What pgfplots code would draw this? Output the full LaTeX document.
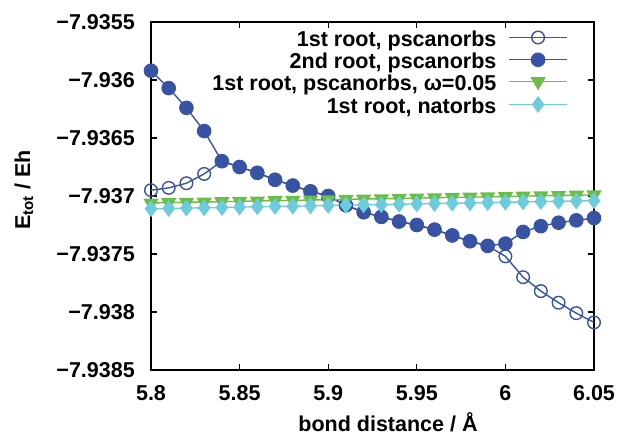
\documentclass[border=0pt]{standalone}
\usepackage{fontspec}
\setmainfont{Liberation Sans}
\usepackage{pgfplots}
\usepackage{pgfplotstable}
\pgfplotsset{compat=1.18}
\definecolor{cblue}{RGB}{57,83,164}
\definecolor{cgreen}{RGB}{106,189,69}
\definecolor{ccyan}{RGB}{108,204,221}
\newcommand{\myfont}{\fontsize{21.5bp}{25bp}\selectfont\bfseries}
\pgfplotstableread{
x open filled green cyan
5.80 -7.93695 -7.93592 -7.937060 -7.937110
5.81 -7.93693 -7.93607 -7.937057 -7.937107
5.82 -7.93689 -7.93624 -7.937054 -7.937104
5.83 -7.93681 -7.93644 -7.937052 -7.937102
5.84 -7.93670 -7.93670 -7.937049 -7.937099
5.85 -7.93675 -7.93675 -7.937046 -7.937096
5.86 -7.93680 -7.93680 -7.937043 -7.937093
5.87 -7.93686 -7.93686 -7.937040 -7.937090
5.88 -7.93691 -7.93691 -7.937038 -7.937088
5.89 -7.93696 -7.93696 -7.937035 -7.937085
5.90 -7.93700 -7.93700 -7.937032 -7.937082
5.91 -7.93708 -7.93708 -7.937029 -7.937079
5.92 -7.93714 -7.93714 -7.937026 -7.937076
5.93 -7.93718 -7.93718 -7.937024 -7.937074
5.94 -7.93722 -7.93722 -7.937021 -7.937071
5.95 -7.93725 -7.93725 -7.937018 -7.937068
5.96 -7.93729 -7.93729 -7.937015 -7.937065
5.97 -7.93734 -7.93734 -7.937012 -7.937062
5.98 -7.93739 -7.93739 -7.937010 -7.937060
5.99 -7.93743 -7.93743 -7.937007 -7.937057
6.00 -7.93752 -7.93741 -7.937004 -7.937054
6.01 -7.93770 -7.93731 -7.937001 -7.937051
6.02 -7.93782 -7.93726 -7.936998 -7.937048
6.03 -7.93792 -7.93723 -7.936996 -7.937046
6.04 -7.93801 -7.93721 -7.936993 -7.937043
6.05 -7.93809 -7.93719 -7.936990 -7.937040
}\data
\begin{document}
\begin{tikzpicture}
\begin{axis}[
  scale only axis, width=443bp, height=348bp,
  xmin=5.8, xmax=6.05, ymin=-7.9385, ymax=-7.9355,
  xtick={5.8,5.85,5.9,5.95,6,6.05},
  xticklabels={5.8,5.85,5.9,5.95,6,6.05},
  ytick={-7.9385,-7.938,-7.9375,-7.937,-7.9365,-7.936,-7.9355},
  yticklabels={−7.9385,−7.938,−7.9375,−7.937,−7.9365,−7.936,−7.9355},
  tick align=inside, major tick length=6bp,
  tick style={black, line width=1.2bp},
  axis line style={black, line width=1.5bp},
  tick label style={font=\myfont, inner sep=0pt},
  yticklabel style={xshift=-16bp},
  xticklabel style={yshift=-15bp},
  xlabel={bond distance / Å},
  ylabel={E\textsubscript{tot} / Eh},
  label style={font=\myfont},
  xlabel style={at={(axis description cs:0.535,0)}, anchor=base, yshift=-61bp},
  ylabel style={at={(axis description cs:-0.273,0.517)}, anchor=base, rotate=0},
  legend style={at={(1,1)}, anchor=north east, xshift=-26bp, yshift=-9bp,
    draw=none, fill=none, inner sep=0pt, font=\myfont,
    nodes={inner sep=0pt, text height=15bp, text depth=4bp},
    row sep=2.7bp, column sep=12bp, cells={anchor=east}},
  legend plot pos=right,
  legend image code/.code={\draw[mark repeat=2,mark phase=2,#1] plot coordinates {(0bp,0.35em) (29bp,0.35em) (58bp,0.35em)};},
]
\addplot[cblue, line width=1.4bp, mark=o, mark size=6.3bp, mark options={line width=1.4bp}] table[x=x,y=open] {\data};
\addlegendentry{1st root, pscanorbs}
\addplot[cblue, line width=1.4bp, mark=*, mark size=6.6bp, mark options={fill=cblue}] table[x=x,y=filled] {\data};
\addlegendentry{2nd root, pscanorbs}
\addplot[cgreen, line width=1.4bp, mark=triangle*, mark size=7.5bp, mark options={fill=cgreen, rotate=180}] table[x=x,y=green] {\data};
\addlegendentry{1st root, pscanorbs, ω=0.05}
\addplot[ccyan, line width=1.4bp, mark=diamond*, mark size=7.3bp, mark options={fill=ccyan}] table[x=x,y=cyan] {\data};
\addlegendentry{1st root, natorbs}
\end{axis}
\pgfresetboundingbox
\useasboundingbox (-151bp,-65bp) rectangle (473bp,370bp);
\end{tikzpicture}
\end{document}
